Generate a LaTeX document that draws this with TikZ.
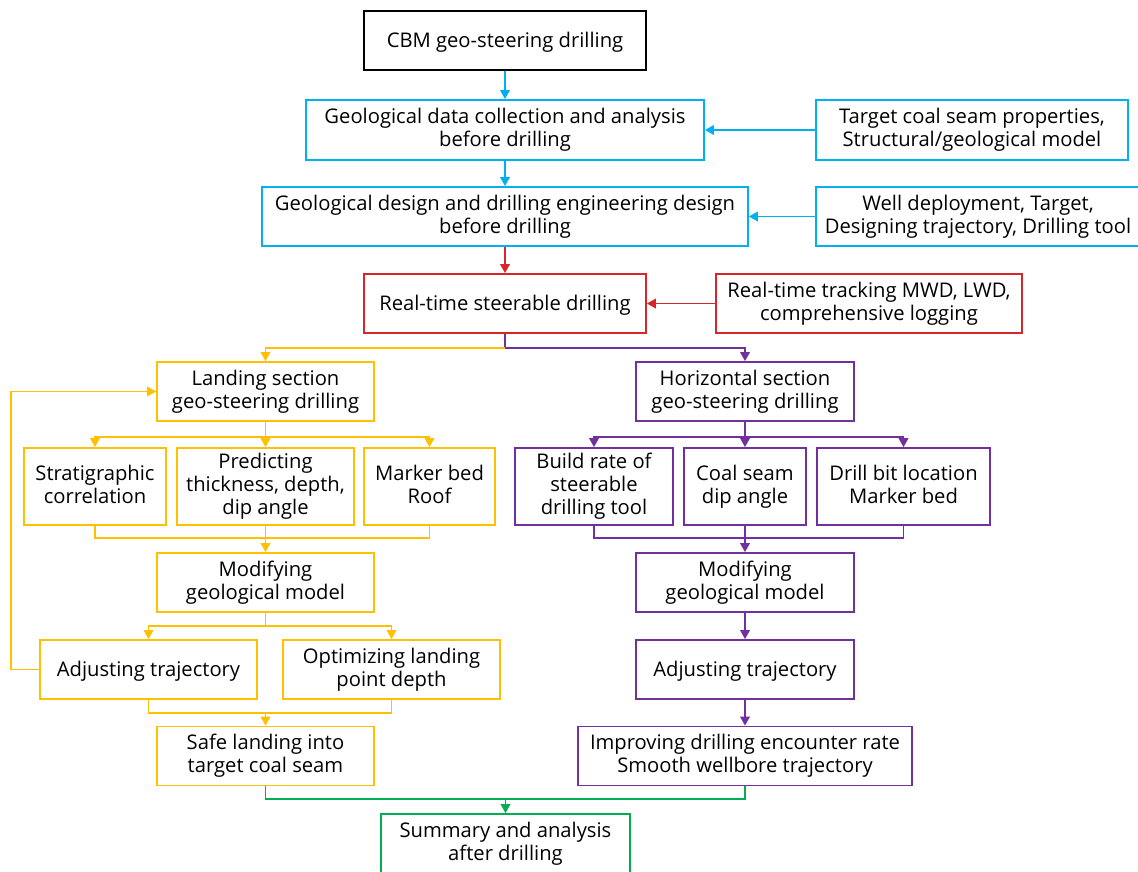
\documentclass[tikz,border=0pt]{standalone}
\usepackage{fontspec}
\setmainfont{Open Sans}
\usepackage{tikz}
\usetikzlibrary{calc,positioning,arrows.meta}
\definecolor{cblue}{RGB}{0,176,240}
\definecolor{cred}{RGB}{214,38,44}
\definecolor{corange}{RGB}{255,192,0}
\definecolor{cpurple}{RGB}{112,48,160}
\definecolor{cgreen}{RGB}{0,176,80}
\newcommand{\linestrut}{\rule[-4.3pt]{0pt}{23pt}}
\tikzset{
    block/.style={rectangle, draw=black, line width=1.7pt, align=center, inner sep=2pt,
        font=\fontsize{20.2}{23}\selectfont,
        execute at begin node=\linestrut, execute at end node=\linestrut},
    blue_block/.style={block, draw=cblue},
    red_block/.style={block, draw=cred},
    orange_block/.style={block, draw=corange},
    purple_block/.style={block, draw=cpurple},
    green_block/.style={block, draw=cgreen},
    line/.style={line width=1.8pt},
    arrow/.style={line, -{Triangle[length=9pt,width=9.5pt]}},
    bline/.style={arrow, cblue},
    rline/.style={arrow, cred},
    oline/.style={line, corange},
    oarrow/.style={arrow, corange},
    pline/.style={line, cpurple},
    parrow/.style={arrow, cpurple},
    gline/.style={line, cgreen},
    garrow/.style={arrow, cgreen},
}

\begin{document}
\begin{tikzpicture}
        [x=1pt, y=-1pt]
        \useasboundingbox (0,0) rectangle (1138,871);

        % Top of the flow
        \node[block, minimum width=282, minimum height=59] (cbm) at (505,40.5) {CBM geo-steering drilling};
        \node[blue_block, minimum width=398, minimum height=60] (geodata) at (505,130) {Geological data collection and analysis\\before drilling};
        \node[blue_block, minimum width=312, minimum height=60] (target) at (972,130) {Target coal seam properties,\\Structural/geological model};
        \node[blue_block, minimum width=486, minimum height=59] (design) at (505,216.5) {Geological design and drilling engineering design\\before drilling};
        \node[blue_block, minimum width=324, minimum height=59] (well) at (978,216.5) {Well deployment, Target,\\Designing trajectory, Drilling tool};
        \node[red_block, minimum width=282, minimum height=59] (steer) at (505,303.5) {Real-time steerable drilling};
        \node[red_block, minimum width=306, minimum height=59] (track) at (869,303.5) {Real-time tracking MWD, LWD,\\comprehensive logging};

        % Landing section
        \node[orange_block, minimum width=217, minimum height=59] (land) at (265.5,391.5) {Landing section\\geo-steering drilling};
        \node[orange_block, minimum width=142, minimum height=77] (strat) at (95,486.5) {Stratigraphic\\correlation};
        \node[orange_block, minimum width=177, minimum height=77] (pred) at (265.5,486.5) {Predicting\\thickness, depth,\\dip angle};
        \node[orange_block, minimum width=131, minimum height=77] (marker) at (429.5,486.5) {Marker bed\\Roof};
        \node[orange_block, minimum width=217, minimum height=59] (modl) at (265.5,582.5) {Modifying\\geological model};
        \node[orange_block, minimum width=217, minimum height=59] (adjl) at (148.5,669.5) {Adjusting trajectory};
        \node[orange_block, minimum width=217, minimum height=59] (opt) at (391.5,669.5) {Optimizing landing\\point depth};
        \node[orange_block, minimum width=217, minimum height=59] (safe) at (265.5,756) {Safe landing into\\target coal seam};

        % Horizontal section
        \node[purple_block, minimum width=218, minimum height=59] (horiz) at (745,391.5) {Horizontal section\\geo-steering drilling};
        \node[purple_block, minimum width=158, minimum height=77] (build) at (594,486.5) {Build rate of\\steerable\\drilling tool};
        \node[purple_block, minimum width=122, minimum height=77] (dip) at (745,486.5) {Coal seam\\dip angle};
        \node[purple_block, minimum width=173, minimum height=77] (bit) at (903.5,486.5) {Drill bit location\\Marker bed};
        \node[purple_block, minimum width=218, minimum height=59] (modr) at (745,582.5) {Modifying\\geological model};
        \node[purple_block, minimum width=218, minimum height=59] (adjr) at (745,669.5) {Adjusting trajectory};
        \node[purple_block, minimum width=334, minimum height=59] (improve) at (745,756) {Improving drilling encounter rate\\Smooth wellbore trajectory};

        % End
        \node[green_block, minimum width=249, minimum height=59] (summary) at (505.5,843.5) {Summary and analysis\\after drilling};

        % Blue arrows
        \draw[bline] (cbm) -- (geodata);
        \draw[bline] (geodata) -- (design);
        \draw[bline] (target) -- (geodata);
        \draw[bline] (well) -- (design);
        \draw[arrow, cred] (design) -- (steer);
        \draw[rline] (track) -- (steer);

        % Split into the two sections
        \coordinate (split) at ($(steer.south)+(0,14)$);
        \draw[pline] (steer.south) -- (split);
        \draw[oarrow] (split) -| (land.north);
        \draw[parrow] (split) -| (horiz.north);

        % Landing arrows
        \coordinate (lsplit) at ($(land.south)+(0,15)$);
        \draw[oline] (land.south) -- (lsplit);
        \draw[oarrow] (lsplit) -| (strat.north);
        \draw[oarrow] (lsplit) -- (pred.north);
        \draw[oarrow] (lsplit) -| (marker.north);
        \coordinate (ljoin) at ($(modl.north)+(0,-14)$);
        \draw[oline] (strat.south) |- (ljoin) -| (marker.south);
        \draw[oarrow] (pred.south) -- (modl.north);
        \coordinate (lsplit2) at ($(modl.south)+(0,13)$);
        \draw[oline] (modl.south) -- (lsplit2);
        \draw[oarrow] (lsplit2) -| (adjl.north);
        \draw[oarrow] (lsplit2) -| (opt.north);
        \coordinate (ljoin2) at ($(safe.north)+(0,-13)$);
        \draw[oline] (adjl.south) |- (ljoin2) -| (opt.south);
        \draw[oarrow] (ljoin2) -- (safe.north);
        \draw[oarrow] (adjl.west) -- ++(-28,0) |- (land.west);

        % Horizontal arrows
        \coordinate (hsplit) at ($(horiz.south)+(0,15)$);
        \draw[pline] (horiz.south) -- (hsplit);
        \draw[parrow] (hsplit) -| (build.north);
        \draw[parrow] (hsplit) -- (dip.north);
        \draw[parrow] (hsplit) -| (bit.north);
        \coordinate (hjoin) at ($(modr.north)+(0,-14)$);
        \draw[pline] (build.south) |- (hjoin) -| (bit.south);
        \draw[parrow] (dip.south) -- (modr.north);
        \draw[parrow] (modr) -- (adjr);
        \draw[parrow] (adjr) -- (improve);

        % Green arrows
        \coordinate (gjoin) at ($(summary.north)+(0,-14)$);
        \draw[gline] (safe.south) |- (gjoin) -| (improve.south);
        \draw[garrow] (gjoin) -- (summary.north);
    \end{tikzpicture}
\end{document}
